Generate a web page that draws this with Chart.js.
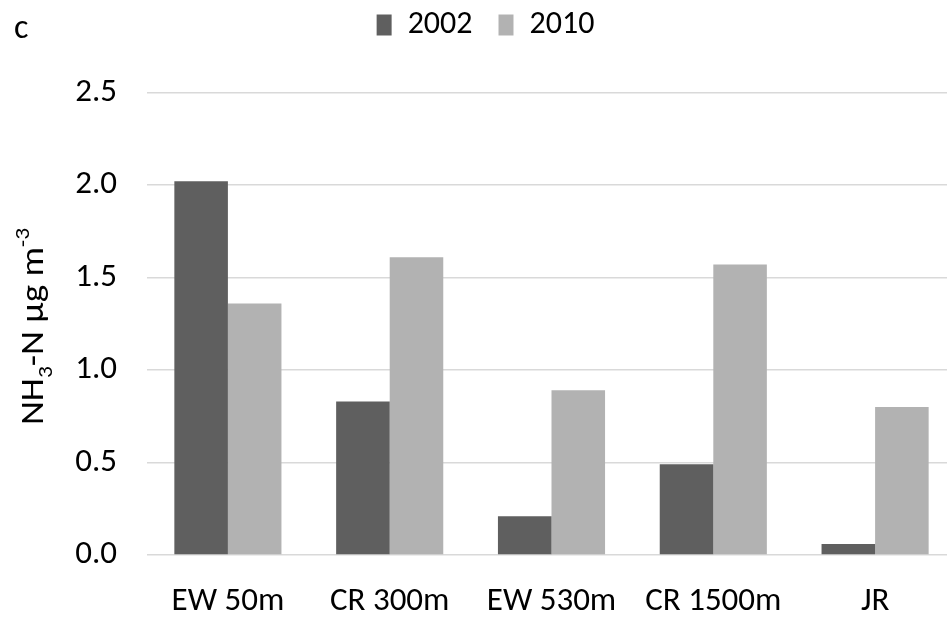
<!DOCTYPE html>
<html>
<head>
<meta charset="utf-8">
<script src="https://cdn.jsdelivr.net/npm/chart.js@4/dist/chart.umd.min.js"></script>
<style>
  html, body { margin: 0; padding: 0; background: #ffffff; overflow: hidden; }
  #wrap { position: relative; width: 960px; height: 617px; }
</style>
</head>
<body>
<div id="wrap"><canvas id="chart"></canvas></div>
<script>
// Sampling sites and yearly NH3-N concentrations (µg m-3)
const sites = ['EW 50m', 'CR 300m', 'EW 530m', 'CR 1500m', 'JR'];
const values2002 = [2.02, 0.83, 0.21, 0.49, 0.06];
const values2010 = [1.36, 1.61, 0.89, 1.57, 0.80];
const seriesNames = ['2002', '2010'];
const yTicks = [0.0, 0.5, 1.0, 1.5, 2.0, 2.5];

const FONT = 'Carlito, Lato, sans-serif';

// Axis title with sub/superscripts and the panel letter
const annotations = {
  id: 'annotations',
  afterDraw(chart) {
    const ctx = chart.ctx;
    ctx.save();
    ctx.fillStyle = '#000000';
    ctx.textBaseline = 'alphabetic';
    ctx.textAlign = 'left';
    ctx.font = '34px ' + FONT;
    ctx.fillText('c', 14, 38);

    const parts = [
      { t: 'NH', size: 33, dy: 0 },
      { t: '3', size: 21, dy: 8.5 },
      { t: '-N µg m', size: 33, dy: 0 },
      { t: '-3', size: 21, dy: -14.5 }
    ];
    ctx.translate(43, 425);
    ctx.rotate(-Math.PI / 2);
    ctx.scale(1.12, 1);
    let x = 0;
    parts.forEach(p => {
      ctx.font = p.size + 'px ' + FONT;
      ctx.fillText(p.t, x, p.dy);
      x += ctx.measureText(p.t).width;
    });
    ctx.restore();
  }
};

new Chart(document.getElementById('chart'), {
  type: 'bar',
  data: {
    labels: sites,
    datasets: [
      { label: seriesNames[0], data: values2002, backgroundColor: '#5f5f5f' },
      { label: seriesNames[1], data: values2010, backgroundColor: '#b2b2b2' }
    ]
  },
  options: {
    responsive: true,
    maintainAspectRatio: false,
    animation: false,
    layout: { padding: { left: 15, right: 4, top: -17, bottom: 0 } },
    datasets: { bar: { categoryPercentage: 0.662, barPercentage: 1.0 } },
    plugins: {
      tooltip: { enabled: false },
      legend: {
        position: 'top',
        align: 'center',
        labels: {
          boxWidth: 15,
          boxHeight: 21,
          padding: 26,
          color: '#000000',
          font: { family: FONT, size: 32 }
        }
      },
      // empty spacer box between the legend and the plot area
      subtitle: {
        display: true,
        text: '',
        position: 'top',
        weight: 500,
        padding: 0,
        font: { family: FONT, size: 41.5, lineHeight: 1 }
      }
    },
    scales: {
      x: {
        grid: { display: false, drawTicks: false },
        border: { display: false },
        ticks: { color: '#000000', font: { family: FONT, size: 33 }, padding: 27, maxRotation: 0 },
        afterFit(scale) { scale.height = 62; }
      },
      y: {
        min: 0,
        max: 2.5,
        afterBuildTicks(scale) { scale.ticks = yTicks.map(v => ({ value: v })); },
        grid: { color: '#d9d9d9', lineWidth: 1.5, drawTicks: false },
        border: { display: false },
        ticks: {
          color: '#000000',
          font: { family: FONT, size: 33 },
          padding: 30,
          callback: v => Number(v).toFixed(1)
        },
        afterFit(scale) { scale.width = 132; }
      }
    }
  },
  plugins: [annotations]
});
</script>
</body>
</html>
